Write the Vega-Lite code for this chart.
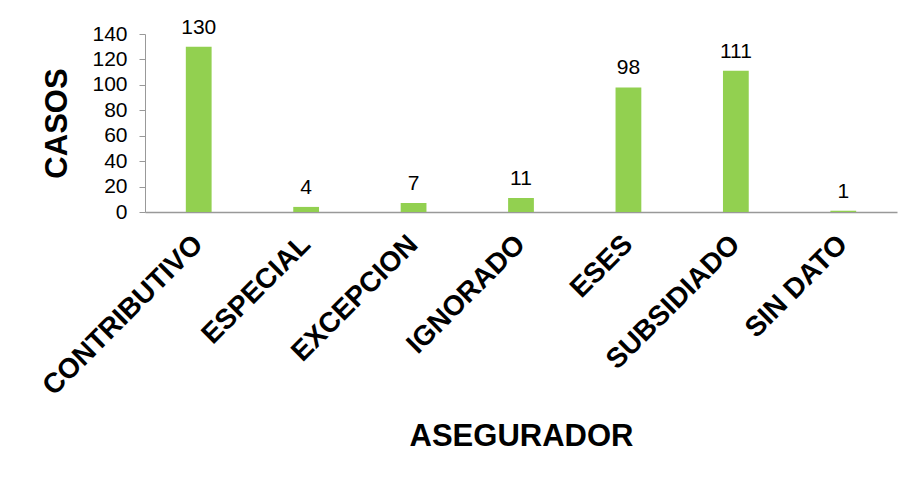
{
  "$schema": "https://vega.github.io/schema/vega-lite/v6.json",
  "autosize": {"type": "none"},
  "width": 752,
  "height": 178,
  "padding": {"left": 145, "top": 34, "right": 16, "bottom": 271},
  "background": "white",
  "config": {"view": {"stroke": null}, "font": "Liberation Sans"},
  "data": {"values": [
    {"asegurador": "CONTRIBUTIVO", "casos": 130},
    {"asegurador": "ESPECIAL", "casos": 4},
    {"asegurador": "EXCEPCION", "casos": 7},
    {"asegurador": "IGNORADO", "casos": 11},
    {"asegurador": "ESES", "casos": 98},
    {"asegurador": "SUBSIDIADO", "casos": 111},
    {"asegurador": "SIN DATO", "casos": 1}
  ]},
  "encoding": {
    "x": {"field": "asegurador", "type": "nominal", "sort": null,
      "scale": {"paddingInner": 0.76, "paddingOuter": 0.38},
      "axis": {"title": "ASEGURADOR", "titleFont": "Liberation Sans", "titleFontSize": 31, "titleFontWeight": "bold", "titleColor": "#000",
        "titleX": 376, "titleY": 224, "titleBaseline": "middle", "titleAnchor": "middle", "titleAlign": "center",
        "labelAngle": -45, "labelAlign": "right", "labelBaseline": "middle", "labelFontSize": 28, "labelFontWeight": "bold", "labelColor": "#000", "labelPadding": 28, "labelLimit": 400, "labelOverlap": false,
        "ticks": false, "domainColor": "#999", "domainWidth": 1.5}},
    "y": {"field": "casos", "type": "quantitative",
      "scale": {"domain": [0, 140]},
      "axis": {"title": "CASOS", "titleFontSize": 31, "titleFontWeight": "bold", "titleColor": "#000",
        "titleX": -88, "titleY": 89, "titleAngle": -90, "titleAlign": "center", "titleBaseline": "middle",
        "values": [0, 20, 40, 60, 80, 100, 120, 140], "grid": false,
        "labelFontSize": 21, "labelColor": "#000", "labelPadding": 12, "tickSize": 6, "tickColor": "#999", "domainColor": "#999"}}
  },
  "layer": [
    {"mark": {"type": "bar", "color": "#92D050"}},
    {"mark": {"type": "text", "dy": -19, "fontSize": 21, "color": "#000"},
      "encoding": {"text": {"field": "casos", "type": "quantitative"}}}
  ]
}
